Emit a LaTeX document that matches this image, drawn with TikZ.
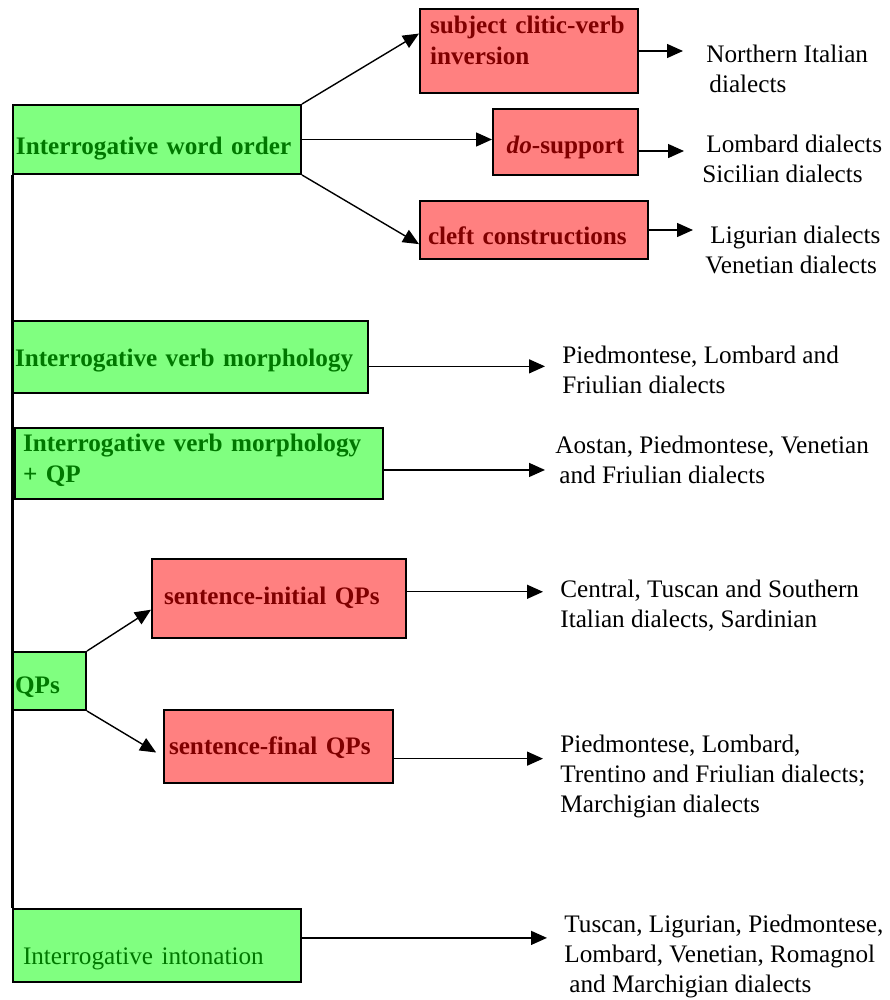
\documentclass[tikz,border=0pt]{standalone}
\usepackage{fontspec}
\setmainfont{Liberation Serif}
\usetikzlibrary{arrows.meta}
\definecolor{boxgreen}{RGB}{128,255,128}
\definecolor{textgreen}{RGB}{0,120,0}
\definecolor{boxred}{RGB}{255,128,128}
\definecolor{textred}{RGB}{128,0,0}

\begin{document}
\begin{tikzpicture}[x=0.5pt,y=-0.5pt]
	\useasboundingbox (0,0) rectangle (889,1000);
	\begin{scope}[every node/.style={draw=black,line width=1pt,fill=boxgreen,text=textgreen,
			anchor=north west,inner ysep=0pt,align=left,font=\fontsize{12.6}{15.5}\selectfont\bfseries}]
		\node[text width=141pt,inner xsep=1.5pt,minimum height=34.5pt,text height=15.5pt,text depth=0pt] (W1) at (12,104) {\mbox{Interrogative word order}};
		\node[text width=175.5pt,inner xsep=1pt,minimum height=36pt,text height=9pt,text depth=0pt] (W2) at (12,320) {\mbox{Interrogative verb morphology}};
		\node[text width=176pt,inner xsep=4pt,minimum height=35.5pt,text height=0pt,text depth=12.5pt] (W3) at (14,427) {\mbox{Interrogative verb morphology}\\+ QP};
		\node[text width=34.5pt,inner xsep=1pt,minimum height=29pt,text height=12pt,text depth=0pt] (QP) at (12,651) {QPs};
		\node[text width=134pt,inner xsep=5pt,minimum height=36.5pt,text height=18.5pt,text depth=0pt,font=\fontsize{12.6}{15.5}\selectfont] (W4) at (12,908) {\mbox{Interrogative intonation}};
	\end{scope}
	\begin{scope}[every node/.style={draw=black,line width=1pt,fill=boxred,text=textred,
			anchor=north west,inner ysep=0pt,align=left,font=\fontsize{12.6}{15.5}\selectfont\bfseries}]
		\node[text width=99pt,inner xsep=5pt,minimum height=42pt,text height=0pt,text depth=17pt] (R1) at (419,8) {\mbox{subject clitic-verb}\\inversion};
		\node[text width=70.5pt,inner xsep=1pt,minimum height=33pt,text height=12pt,text depth=0pt,align=center] (R2) at (492,108) {\mbox{\textit{do}-support}};
		\node[text width=106pt,inner xsep=4pt,minimum height=29pt,text height=14pt,text depth=0pt] (R3) at (419,200) {\mbox{cleft constructions}};
		\node[text width=115pt,inner xsep=6pt,minimum height=39.5pt,text height=5.5pt,text depth=0pt] (R4) at (151,558) {\mbox{sentence-initial QPs}};
		\node[text width=109.5pt,inner xsep=2.5pt,minimum height=36.5pt,text height=7.5pt,text depth=0pt] (R5) at (163,709) {\mbox{sentence-final QPs}};
	\end{scope}
	\begin{scope}[every node/.style={anchor=base west,inner sep=0pt,align=left,font=\fontsize{12.6}{15}\selectfont}]
		\node (D1) at (706,93) {Northern Italian\\\hspace*{1.5pt}dialects};
		\node (D2) at (702,183) {\hspace*{2pt}Lombard dialects\\Sicilian dialects};
		\node (D3) at (705,273) {\hspace*{2.5pt}Ligurian dialects\\Venetian dialects};
		\node (D4) at (562,393) {Piedmontese, Lombard and\\Friulian dialects};
		\node (D5) at (555,483) {Aostan, Piedmontese, Venetian\\\hspace*{2pt}and Friulian dialects};
		\node (D6) at (560,627) {Central, Tuscan and Southern\\Italian dialects, Sardinian};
		\node (D7) at (560,812) {Piedmontese, Lombard,\\Trentino and Friulian dialects;\\Marchigian dialects};
		\node (D8) at (564,992) {Tuscan, Ligurian, Piedmontese,\\Lombard, Venetian, Romagnol\\\hspace*{2.5pt}and Marchigian dialects};
	\end{scope}
	\begin{scope}[>={Triangle[length=8pt,width=7pt]},
		every edge/.style={draw=black,line width=0.7pt}]
		\path [->] (W1.north east) edge (R1.171);
		\path [->] (W1.east) edge (W1.east -| R2.west);
		\path [->] (W1.south east) edge (R3.187);
		\path [->] (QP.north east) edge (R4.185);
		\path [->] (QP.south east) edge[shorten >=4pt] (R5.185);
		\path [->] (R1.east) edge[shorten >=11.5pt] (R1.east -| D1.west);
		\path [->] (R2.-7) edge[shorten >=9pt] (R2.-7 -| D2.west);
		\path [->] (R3.east) edge[shorten >=6pt] (R3.east -| D3.west);
		\path [->] (W2.-3) edge[shorten >=8.5pt] (W2.-3 -| D4.west);
		\path [->] (W3.-2) edge[shorten >=5pt] (W3.-2 -| D5.west);
		\path [->] (R4.3) edge[shorten >=8.5pt] (R4.3 -| D6.west);
		\path [->] (R5.-6) edge[shorten >=8.5pt] (R5.-6 -| D7.west);
		\path [->] (W4.3) edge[shorten >=8.5pt] (W4.3 -| D8.west);
	\end{scope}
	\draw[line width=1.5pt] (W1.south west) -- (W4.north west);
\end{tikzpicture}
\end{document}
